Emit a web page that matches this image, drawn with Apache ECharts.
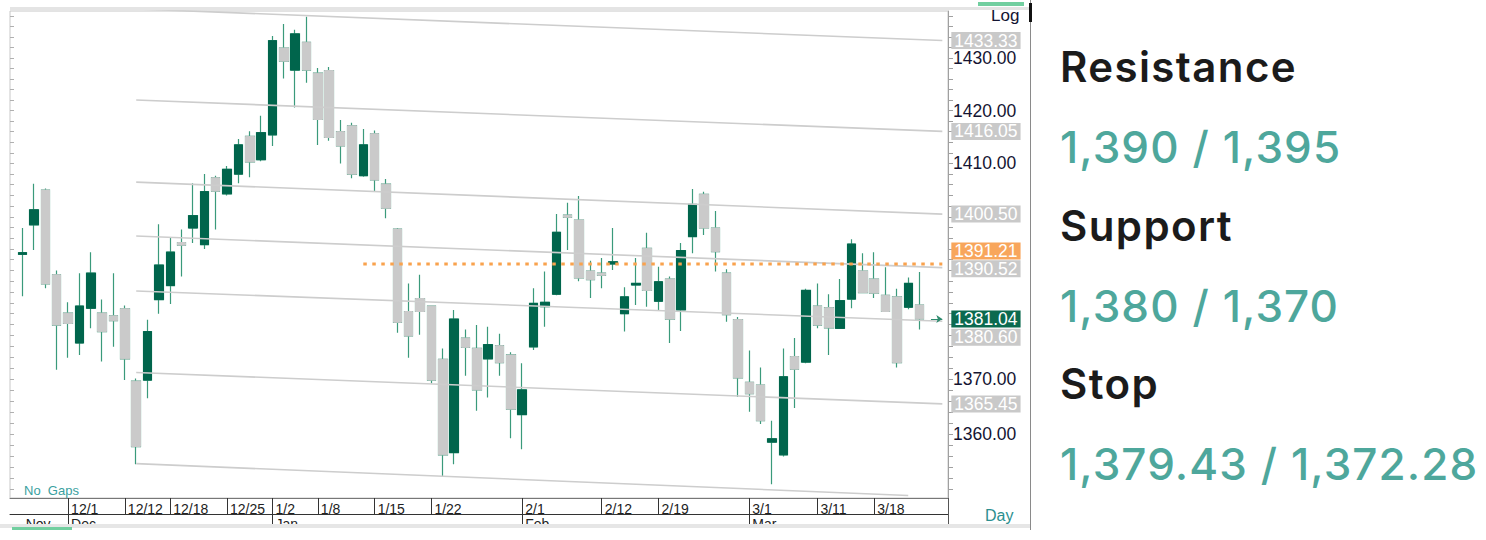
<!DOCTYPE html>
<html>
<head>
<meta charset="utf-8">
<script src="https://cdn.jsdelivr.net/npm/echarts@6/dist/echarts.min.js"></script>
<style>
  html, body { margin: 0; padding: 0; background: #fff; width: 1486px; height: 540px; overflow: hidden; }
  #chart { position: absolute; left: 0; top: 0; width: 1486px; height: 540px; }
  #panel { position: absolute; left: 1060px; top: 0; width: 426px; height: 540px; font-family: Inter, "Noto Sans", sans-serif; }
  .hd { position: absolute; left: 0; color: #1b1b1b; font-weight: 600; font-size: 42px; line-height: 42px; letter-spacing: 1.4px; white-space: nowrap; }
  .vl { position: absolute; left: 0; color: #4ea79c; font-weight: 500; font-size: 44px; line-height: 44px; letter-spacing: 1.1px; white-space: nowrap; }
</style>
</head>
<body>
<div id="chart"></div>
<div id="panel"></div>
<script>
// ---------------- data ----------------
const open  = [1393.0,1398.5,1405.0,1389.2,1382.1,1376.6,1383.0,1382.1,1381.6,1382.9,
               1369.6,1369.8,1384.6,1387.2,1395.2,1397.9,1394.8,1407.3,1404.3,1408.0,
               1415.1,1410.7,1415.4,1431.9,1427.7,1433.0,1427.1,1427.6,1416.0,1417.1,
               1407.7,1415.6,1406.1,1397.7,1382.4,1384.8,1383.4,1373.6,1356.6,1377.5,
               1375.6,1373.7,1376.1,1374.4,1363.5,1375.9,1383.3,1385.6,1400.3,1399.4,
               1389.9,1389.5,1391.2,1382.0,1387.3,1394.1,1384.3,1388.4,1382.7,1396.3,
               1404.2,1397.9,1389.5,1380.9,1369.4,1368.9,1358.5,1356.2,1374.1,1373.1,
               1383.4,1383.1,1379.3,1384.7,1389.9,1388.4,1385.4,1385.1,1383.2,1383.6];
const close = [1393.3,1401.3,1387.5,1379.9,1380.2,1383.4,1389.5,1378.7,1380.7,1373.7,
               1357.7,1378.7,1391.0,1393.4,1394.7,1400.2,1404.7,1404.8,1408.9,1413.5,
               1410.3,1415.8,1433.3,1429.4,1434.6,1427.7,1418.3,1414.9,1413.3,1408.0,
               1413.5,1406.9,1401.6,1380.4,1377.9,1382.4,1369.8,1356.2,1381.0,1375.8,
               1368.0,1376.3,1373.0,1364.5,1368.0,1383.9,1384.1,1397.1,1399.9,1388.6,
               1388.3,1389.1,1391.6,1385.1,1387.6,1386.3,1387.9,1381.0,1393.7,1402.3,
               1397.9,1393.5,1381.8,1370.2,1367.3,1362.4,1359.1,1370.4,1371.8,1386.3,
               1379.9,1379.4,1384.4,1394.9,1385.9,1385.8,1382.4,1373.0,1387.6,1381.04];
const high  = [1397.9,1406.2,1405.3,1390.0,1384.1,1389.5,1393.4,1384.6,1389.5,1383.5,
               1370.1,1380.9,1398.6,1396.1,1397.6,1406.3,1408.0,1407.7,1409.5,1414.6,
               1416.1,1419.0,1434.2,1436.5,1435.4,1437.9,1428.1,1428.3,1418.2,1417.7,
               1416.5,1416.2,1407.1,1397.9,1387.6,1389.2,1383.5,1375.6,1382.7,1379.1,
               1379.9,1379.6,1378.3,1374.9,1372.9,1386.7,1389.8,1400.5,1402.6,1403.9,
               1391.8,1392.3,1397.9,1386.9,1392.3,1397.0,1390.7,1388.9,1395.1,1405.2,
               1404.7,1401.1,1390.2,1381.4,1375.2,1372.1,1362.4,1375.6,1377.5,1386.6,
               1387.6,1385.6,1388.4,1395.8,1393.2,1393.4,1390.6,1386.6,1388.7,1389.7];
const low   = [1385.2,1393.8,1386.7,1371.7,1373.9,1374.4,1379.3,1373.2,1375.9,1369.8,
               1354.5,1366.5,1382.0,1383.8,1388.9,1395.1,1394.0,1397.6,1404.0,1406.3,
               1407.4,1410.4,1413.3,1426.1,1420.6,1425.3,1413.5,1414.3,1410.0,1407.2,
               1407.5,1404.7,1399.7,1378.5,1373.9,1378.1,1369.2,1352.2,1354.5,1370.6,
               1364.2,1366.6,1370.6,1359.2,1357.2,1375.3,1379.6,1385.4,1393.8,1388.0,
               1384.9,1386.7,1390.1,1378.7,1383.6,1383.3,1382.7,1376.6,1378.8,1393.2,
               1396.6,1389.8,1380.5,1366.7,1364.0,1361.8,1350.9,1355.9,1364.7,1372.9,
               1379.3,1374.4,1379.2,1383.0,1385.8,1384.9,1382.3,1372.1,1382.8,1379.1];

// bottom axis: trading-day index -> label
const dateTickLabels = {4:'12/1', 9:'12/12', 13:'12/18', 18:'12/25', 22:'1/2', 26:'1/8', 31:'1/15',
                        36:'1/22', 44:'2/1', 51:'2/12', 56:'2/19', 64:'3/1', 70:'3/11', 75:'3/18'};
const monthLabels = {0:'Nov', 4:'Dec', 22:'Jan', 44:'Feb', 64:'Mar'};
const emptyDaysAfter = 2;

// price axis tick labels (log scale); 1380/1390/1400 are hidden behind the level boxes in the reference
const priceTicks = [1360, 1370, 1410, 1420, 1430];
const yMin = 1348.4, yMax = 1439.0;

// declining channel lines (start day, start value) -> (end day, end value)
const channelStartDay = [10, 10, 10, 10, 10, 10, 10];
const channelStartVal = [1439.4, 1422.0, 1406.5, 1396.4, 1386.2, 1371.2, 1354.6];
const channelEndDay   = [81, 81, 81, 81, 81, 81, 78];
const channelEndVal   = [1433.33, 1416.05, 1400.50, 1390.52, 1380.60, 1365.45, 1348.85];
const channelLabeled  = [true, true, true, true, true, true, false];

// dotted resistance level
const dottedLevel = 1391.21;
const dottedStartDay = 30, dottedEndDay = 81;

// side panel
const levelNames  = ['Resistance', 'Support', 'Stop'];
const levelValues = ['1,390 / 1,395', '1,380 / 1,370', '1,379.43 / 1,372.28'];

// ---------------- side panel ----------------
const headTops = [46, 205, 363], valTops = [125, 284, 442];
const panel = document.getElementById('panel');
levelNames.forEach((n, k) => {
  const h = document.createElement('div'); h.className = 'hd'; h.style.top = headTops[k] + 'px'; h.textContent = n; panel.appendChild(h);
  const v = document.createElement('div'); v.className = 'vl'; v.style.top = valTops[k] + 'px'; v.textContent = levelValues[k]; panel.appendChild(v);
});

// ---------------- chart ----------------
const UP = '#00654c', DOWN = '#cacaca', WICK = '#3a9a7b';
const FONT = '"Liberation Sans", Arial, sans-serif';
const N = open.length;
const categories = [];
for (let i = 0; i < N + emptyDaysAfter; i++) categories.push(String(i));
const ohlc = open.map((o, i) => [o, close[i], low[i], high[i]]);
const bodies = open.map((o, i) => [o, close[i], Math.min(o, close[i]), Math.max(o, close[i])]);
const lastClose = close[N - 1];

const minorTicks = [];
for (let v = 1350; v <= 1438; v += 2) minorTicks.push(v);

const boxLabel = (bg, extra) => Object.assign({
  show: true, color: '#fff', backgroundColor: bg, fontSize: 17.5, fontFamily: FONT,
  padding: [1, 3, 0, 3], lineHeight: 16, distance: 9
}, extra || {});

const channelOffsets = [0, 0, 0, 1, 16, 0, 0];
const channelSeries = channelStartVal.map((s, k) => ({
  type: 'line', xAxisIndex: 0, yAxisIndex: 0, silent: true, symbol: 'none', z: 4,
  data: [[channelStartDay[k], s], [channelEndDay[k], channelEndVal[k]]],
  lineStyle: { color: '#cdcdcd', width: 1.6 },
  endLabel: channelLabeled[k] ? boxLabel('#c9c9c9', {
    formatter: p => Number(p.value[1]).toFixed(2), offset: [0, channelOffsets[k]]
  }) : { show: false }
}));

const chart = echarts.init(document.getElementById('chart'), null, { renderer: 'svg' });
chart.setOption({
  animation: false,
  backgroundColor: '#fff',
  grid: [
    { left: 17, right: 538, top: 11, bottom: 42, show: false },
    { left: 10, right: 538, top: 11, bottom: 42, show: true, borderColor: '#c8c8c8', borderWidth: 1, backgroundColor: 'transparent' }
  ],
  xAxis: [
    { gridIndex: 0, type: 'category', data: categories, boundaryGap: true, position: 'bottom',
      axisLine: { show: false },
      axisTick: { show: true, alignWithLabel: true, length: 16, interval: (i) => dateTickLabels[i] !== undefined,
                  lineStyle: { color: '#333', width: 1 } },
      axisLabel: { show: true, interval: (i) => dateTickLabels[i] !== undefined,
                   formatter: (v, i) => dateTickLabels[i] || '', align: 'left', padding: [0, 0, 0, 3],
                   margin: 4, fontSize: 14, color: '#222', fontFamily: FONT },
      splitLine: { show: false } },
    { gridIndex: 0, type: 'category', data: categories, boundaryGap: true, position: 'bottom', offset: 16,
      axisLine: { show: false },
      axisTick: { show: true, alignWithLabel: true, length: 12, interval: (i) => i > 0 && monthLabels[i] !== undefined,
                  lineStyle: { color: '#333', width: 1 } },
      axisLabel: { show: true, interval: (i) => monthLabels[i] !== undefined,
                   formatter: (v, i) => monthLabels[i] || '', align: 'left', padding: [0, 0, 0, 3],
                   margin: 3, fontSize: 14, color: '#222', fontFamily: FONT },
      splitLine: { show: false } },
    { gridIndex: 1, type: 'value', min: 0, max: 1, position: 'bottom', offset: 16,
      axisLine: { show: true, lineStyle: { color: '#333', width: 1 } },
      axisTick: { show: false }, axisLabel: { show: false }, splitLine: { show: false } },
    { gridIndex: 1, type: 'value', min: 0, max: 1, position: 'bottom', offset: 0,
      axisLine: { show: true, lineStyle: { color: '#777', width: 1 } },
      axisTick: { show: false }, axisLabel: { show: false }, splitLine: { show: false } }
  ],
  yAxis: [
    { gridIndex: 0, type: 'log', logBase: 10, position: 'right', min: yMin, max: yMax,
      axisLine: { show: true, lineStyle: { color: '#a0a0a0' } },
      axisTick: { show: true, length: 5, customValues: minorTicks, lineStyle: { color: '#a0a0a0' } },
      axisLabel: { show: true, customValues: priceTicks, formatter: v => Number(v).toFixed(2),
                   margin: 5, fontSize: 17.5, color: '#141432', fontFamily: FONT },
      splitLine: { show: false } },
    { gridIndex: 1, type: 'log', logBase: 10, position: 'left', min: yMin, max: yMax,
      axisLine: { show: false },
      axisTick: { show: true, inside: true, length: 4, customValues: minorTicks, lineStyle: { color: '#b0b0b0' } },
      axisLabel: { show: false }, splitLine: { show: false } }
  ],
  series: [
    { type: 'candlestick', name: 'wicks', xAxisIndex: 0, yAxisIndex: 0, data: ohlc, barWidth: 9, z: 2, silent: true,
      itemStyle: { color: UP, color0: DOWN, borderColor: WICK, borderColor0: WICK, borderWidth: 1.2 } },
    { type: 'candlestick', name: 'bodies', xAxisIndex: 0, yAxisIndex: 0, data: bodies, barWidth: 9, z: 3, silent: true,
      itemStyle: { color: UP, color0: DOWN, borderColor: UP, borderColor0: DOWN, borderWidth: 1 },
      markLine: {
        silent: true, symbol: ['none', 'arrow'], symbolSize: 6, z: 6,
        lineStyle: { color: '#2e8b6e', width: 1, type: 'solid' },
        label: boxLabel('#0b6a4f', { position: 'end', formatter: () => lastClose.toFixed(2) }),
        data: [[{ coord: [N, lastClose] }, { coord: [N + 1, lastClose] }]]
      } },
    ...channelSeries,
    { type: 'line', xAxisIndex: 0, yAxisIndex: 0, silent: true, symbol: 'none', z: 5,
      data: [[dottedStartDay, dottedLevel], [dottedEndDay, dottedLevel]],
      lineStyle: { color: '#f9a24d', width: 3, type: [3.5, 5.5] },
      endLabel: boxLabel('#f8a65c', { formatter: p => Number(p.value[1]).toFixed(2), offset: [0, -13] }) }
  ],
  graphic: [
    { type: 'rect', z: 100, shape: { x: 10, y: 7, width: 1020, height: 3 }, style: { fill: '#e4e4e4' } },
    { type: 'rect', z: 100, shape: { x: 978, y: 2, width: 46, height: 4 }, style: { fill: '#72cfa0' } },
    { type: 'text', z: 99, style: { x: 991, y: 7, text: 'Log', verticalAlign: 'top', fontSize: 17, fontFamily: FONT, fill: '#141432' } },
    { type: 'text', z: 99, style: { x: 24, y: 484, text: 'No  Gaps', verticalAlign: 'top', fontSize: 13, fontFamily: FONT, fill: '#3a9fa0' } },
    { type: 'text', z: 99, style: { x: 985, y: 507, text: 'Day', verticalAlign: 'top', fontSize: 16, fontFamily: FONT, fill: '#2b8f8f' } },
    { type: 'line', z: 99, shape: { x1: 948.5, y1: 498, x2: 948.5, y2: 524 }, style: { stroke: '#555', lineWidth: 1 } },
    { type: 'rect', z: 100, shape: { x: 0, y: 524, width: 1030, height: 4 }, style: { fill: '#e6e6e6' } },
    { type: 'rect', z: 100, shape: { x: 0, y: 528, width: 1030, height: 12 }, style: { fill: '#ffffff' } },
    { type: 'rect', z: 101, shape: { x: 12, y: 527, width: 60, height: 3 }, style: { fill: '#72cfa0' } },
    { type: 'line', z: 100, shape: { x1: 1030.5, y1: 0, x2: 1030.5, y2: 530 }, style: { stroke: '#8a8a8a', lineWidth: 1 } },
    { type: 'line', z: 101, shape: { x1: 1030.5, y1: 3, x2: 1030.5, y2: 22 }, style: { stroke: '#111', lineWidth: 3 } }
  ]
});
</script>
</body>
</html>
